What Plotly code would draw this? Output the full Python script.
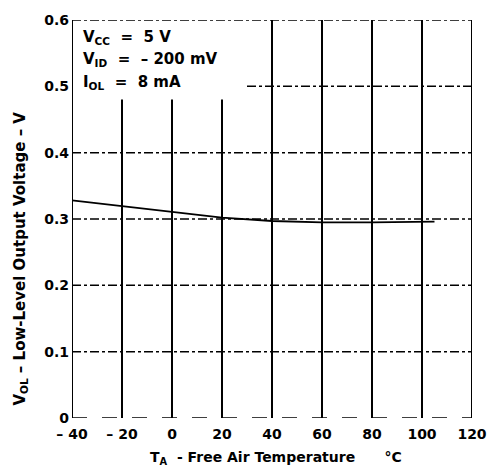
import plotly.graph_objects as go

# Low-level output voltage vs free-air temperature
temp_c = [-40, -20, 0, 20, 40, 60, 80, 100, 105]
vol_v = [0.328, 0.319, 0.310, 0.302, 0.297, 0.295, 0.295, 0.296, 0.296]

x_ticks = [-40, -20, 0, 20, 40, 60, 80, 100, 120]
x_tick_text = ["– 40", "– 20", "0", "20", "40", "60", "80", "100", "120"]
y_ticks = [0, 0.1, 0.2, 0.3, 0.4, 0.5, 0.6]
y_tick_text = ["0", "0.1", "0.2", "0.3", "0.4", "0.5", "0.6"]

# vertical grid lines that stop below the condition box, and full-height ones
short_grid_x = [-20, 0, 20]
short_grid_top = 0.48
full_grid_x = [40, 60, 80, 100]
# horizontal dash-dot grid lines: (level, starting temperature)
h_grid = [(0.1, -40), (0.2, -40), (0.3, -40), (0.4, -40), (0.5, 30), (0.6, -40)]

conditions = [
    "V<sub>CC</sub>  =  5 V",
    "V<sub>ID</sub>  =  – 200 mV",
    "I<sub>OL</sub>  =  8 mA",
]
condition_y = [0.573, 0.541, 0.506]

FONT = dict(family="DejaVu Sans, sans-serif", color="black", size=13, weight="bold")

fig = go.Figure()
fig.add_trace(go.Scatter(x=temp_c, y=vol_v, mode="lines",
                         line=dict(color="black", width=1.8), showlegend=False))

shapes = []
for xv in short_grid_x:
    shapes.append(dict(type="line", xref="x", yref="y", x0=xv, x1=xv, y0=0, y1=short_grid_top,
                       line=dict(color="black", width=2)))
for xv in full_grid_x:
    shapes.append(dict(type="line", xref="x", yref="y", x0=xv, x1=xv, y0=0, y1=0.6,
                       line=dict(color="black", width=2)))
for xv in (-40, 120):
    shapes.append(dict(type="line", xref="x", yref="y", x0=xv, x1=xv, y0=0, y1=0.6,
                       line=dict(color="black", width=2)))
for yv, x_start in h_grid:
    shapes.append(dict(type="line", xref="x", yref="y", x0=x_start, x1=120, y0=yv, y1=yv,
                       line=dict(color="black", width=1.5, dash="dashdot")))
shapes.append(dict(type="line", xref="x", yref="y", x0=-40, x1=120, y0=0, y1=0,
                   line=dict(color="black", width=1.5, dash="longdash")))

annotations = []
for txt, yv in zip(conditions, condition_y):
    annotations.append(dict(x=-36.5, y=yv, xref="x", yref="y", text=txt,
                            showarrow=False, xanchor="left", yanchor="middle",
                            font=dict(FONT, size=15)))
annotations.append(dict(x=0.51, y=-0.072, xref="paper", yref="paper",
                        text="T<sub>A</sub>  - Free Air Temperature      °C",
                        showarrow=False, xanchor="center", yanchor="top",
                        font=dict(FONT, size=14)))
annotations.append(dict(x=-0.128, y=0.4, xref="paper", yref="paper",
                        text="V<sub>OL</sub> – Low-Level Output Voltage – V",
                        textangle=-90, showarrow=False, xanchor="center", yanchor="middle",
                        font=dict(FONT, size=15)))

fig.update_layout(
    width=499, height=471,
    margin=dict(l=72, r=26, t=12, b=53),
    paper_bgcolor="white", plot_bgcolor="white",
    shapes=shapes, annotations=annotations,
    font=FONT,
)
fig.update_xaxes(range=[-40, 120], tickvals=x_ticks, ticktext=x_tick_text,
                 showgrid=False, zeroline=False, showline=False, ticks="",
                 ticklabelstandoff=6, tickfont=dict(FONT, size=14))
fig.update_yaxes(range=[0, 0.6], tickvals=y_ticks, ticktext=y_tick_text,
                 showgrid=False, zeroline=False, showline=False, ticks="",
                 ticklabelstandoff=2, tickfont=dict(FONT, size=14))

fig.write_html("out.html")
